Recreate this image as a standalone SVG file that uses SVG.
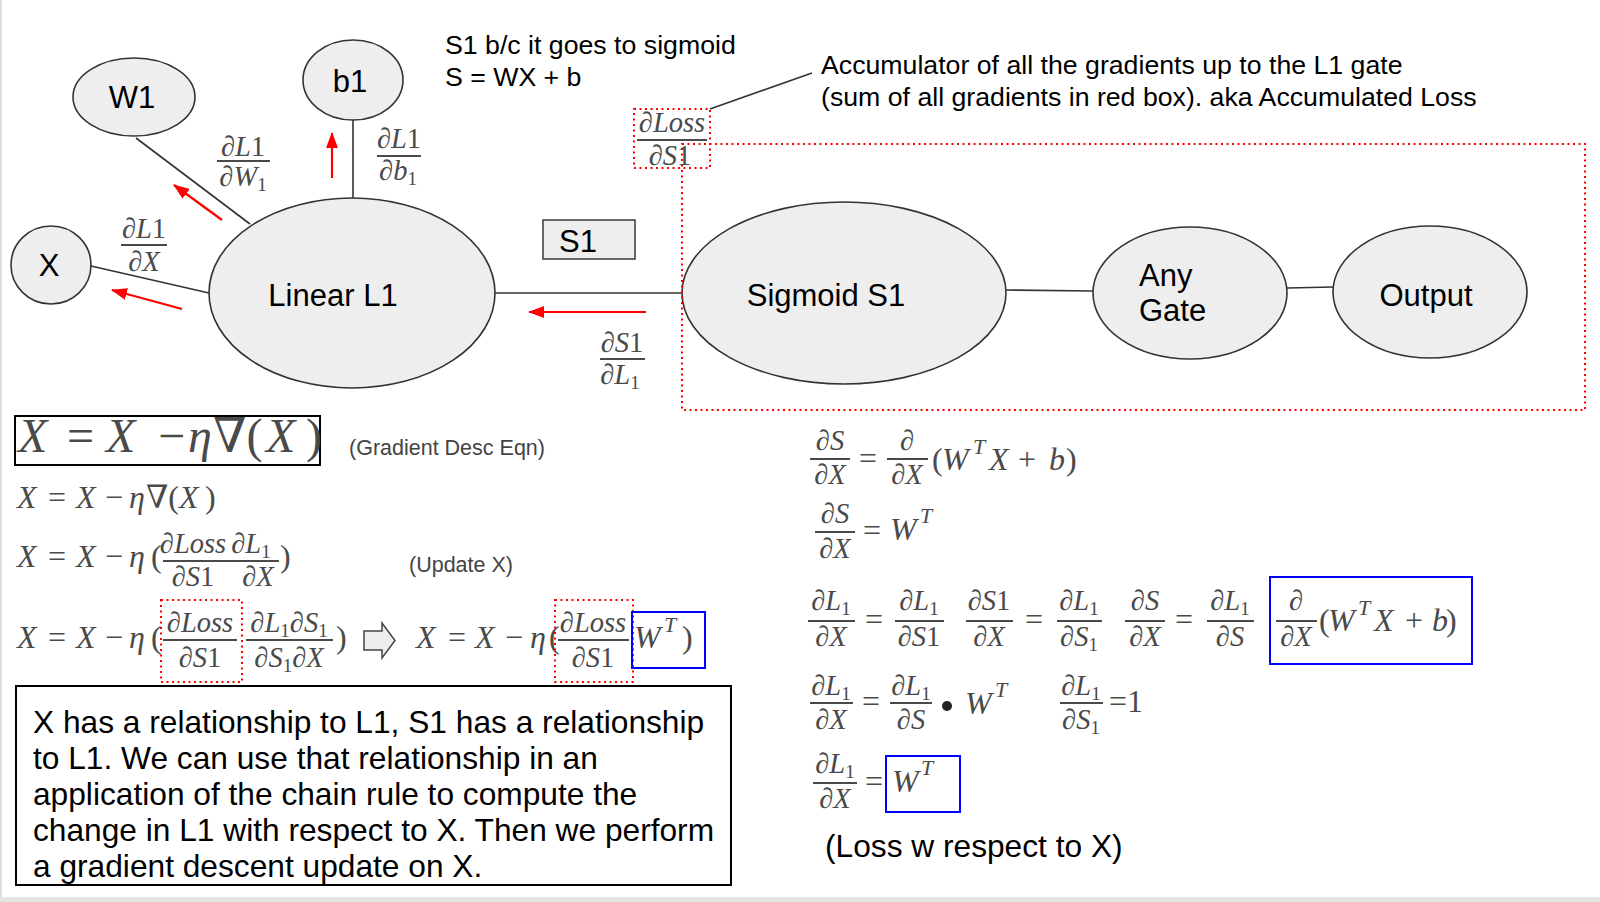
<svg xmlns="http://www.w3.org/2000/svg" width="1600" height="902" viewBox="0 0 1600 902">
<defs>
<marker id="ra" markerUnits="userSpaceOnUse" markerWidth="16" markerHeight="12" refX="15" refY="6" orient="auto"><path d="M0,0 L16,6 L0,12 z" fill="#ff0000"/></marker>
<style>
.nd{fill:#eeeeee;stroke:#333;stroke-width:1.6}
.lb{font-family:"Liberation Sans",Arial,sans-serif;font-size:31px;fill:#000}
.ex{font-family:"Liberation Sans",Arial,sans-serif;font-size:31.7px;fill:#000}
.tx{font-family:"Liberation Sans",Arial,sans-serif;font-size:26.7px;fill:#000}
.gt{font-family:"Liberation Sans",Arial,sans-serif;font-size:21.5px;fill:#444}
.m{font-family:"Liberation Serif","DejaVu Serif",serif;font-style:italic;font-size:28.5px;fill:#4a4a4a}
.ml{font-family:"Liberation Serif","DejaVu Serif",serif;font-style:italic;font-size:32px;fill:#4a4a4a}
.u{font-style:normal}
.s{font-size:19px}
.t{font-size:22px}
.bar{stroke:#4a4a4a;stroke-width:2.2}
.cn{stroke:#333;stroke-width:1.6;fill:none}
.ar{stroke:#ff0000;stroke-width:2.2;fill:none}
.rd{fill:none;stroke:#ff0000;stroke-width:2;stroke-dasharray:2 3.5}
.bl{fill:none;stroke:#0000ff;stroke-width:2}
.ctr{text-anchor:middle}
</style>
</defs>
<rect x="0" y="0" width="1600" height="902" fill="#ffffff"/>
<rect x="0" y="0" width="2" height="902" fill="#dddddd"/>
<rect x="0" y="897" width="1600" height="5" fill="#e4e4e4"/>

<g id="connectors">
<line class="cn" x1="136" y1="138" x2="250" y2="224"/>
<line class="cn" x1="353" y1="120" x2="353" y2="198"/>
<line class="cn" x1="91" y1="266" x2="209" y2="293"/>
<line class="cn" x1="495" y1="293" x2="682" y2="293" stroke="#555"/>
<line class="cn" x1="1006" y1="290" x2="1093" y2="291"/>
<line class="cn" x1="1287" y1="288" x2="1333" y2="287"/>
<line class="cn" x1="710" y1="109" x2="812" y2="73"/>
<line class="ar" x1="332" y1="178" x2="332" y2="133" marker-end="url(#ra)"/>
<line class="ar" x1="222" y1="220" x2="174" y2="185" marker-end="url(#ra)"/>
<line class="ar" x1="182" y1="309" x2="112" y2="290" marker-end="url(#ra)"/>
<line class="ar" x1="646" y1="312" x2="529" y2="312" marker-end="url(#ra)"/>
</g>

<g id="node-W1"><ellipse class="nd" cx="134" cy="97" rx="61" ry="39"/><text class="lb ctr" x="132" y="108">W1</text></g>
<g id="node-b1"><ellipse class="nd" cx="353" cy="80" rx="50" ry="40"/><text class="lb ctr" x="350" y="92">b1</text></g>
<g id="node-X"><ellipse class="nd" cx="51" cy="265" rx="40" ry="39"/><text class="lb ctr" x="49" y="276">X</text></g>
<g id="node-L1"><ellipse class="nd" cx="352" cy="293" rx="143" ry="95"/><text class="lb ctr" x="333" y="306">Linear L1</text></g>
<g id="node-S1"><ellipse class="nd" cx="844" cy="293" rx="162" ry="91"/><text class="lb ctr" x="826" y="306">Sigmoid S1</text></g>
<g id="node-gate"><ellipse class="nd" cx="1190" cy="293" rx="97" ry="66"/><text class="lb" x="1139" y="286">Any</text><text class="lb" x="1139" y="321">Gate</text></g>
<g id="node-output"><ellipse class="nd" cx="1430" cy="292" rx="97" ry="66"/><text class="lb ctr" x="1426" y="306">Output</text></g>
<g id="node-S1box"><rect x="543" y="220" width="92" height="39" fill="#eeeeee" stroke="#444" stroke-width="1.6"/><text class="lb" x="559" y="252">S1</text></g>

<g id="notes">
<text class="tx" x="445" y="54">S1 b/c it goes to sigmoid</text>
<text class="tx" x="445" y="86">S = WX + b</text>
<text class="tx" x="821" y="74">Accumulator of all the gradients up to the L1 gate</text>
<text class="tx" x="821" y="106">(sum of all gradients in red box). aka Accumulated Loss</text>
<rect class="rd" x="634" y="109" width="76" height="59"/>
<rect class="rd" x="682" y="144" width="903" height="266"/>
</g>

<g id="edge-labels">
<text class="m ctr" x="243" y="156">∂L<tspan class="u">1</tspan></text><line class="bar" x1="217" y1="161" x2="270" y2="161"/><text class="m ctr" x="243" y="186">∂W<tspan class="s u" dy="5">1</tspan></text>
<text class="m ctr" x="399" y="148">∂L<tspan class="u">1</tspan></text><line class="bar" x1="377" y1="156" x2="421" y2="156"/><text class="m ctr" x="398" y="180">∂b<tspan class="s u" dy="5">1</tspan></text>
<text class="m ctr" x="144" y="238">∂L<tspan class="u">1</tspan></text><line class="bar" x1="121" y1="245" x2="167" y2="245"/><text class="m ctr" x="144" y="271">∂X</text>
<text class="m ctr" x="622" y="352">∂S<tspan class="u">1</tspan></text><line class="bar" x1="600" y1="359" x2="645" y2="359"/><text class="m ctr" x="620" y="384">∂L<tspan class="s u" dy="5">1</tspan></text>
<text class="m ctr" x="672" y="132">∂Loss</text><line class="bar" x1="637" y1="140" x2="707" y2="140"/><text class="m ctr" x="670" y="165">∂S<tspan class="u">1</tspan></text>
</g>

<g id="left-equations">
<rect x="15" y="416" width="305" height="49" fill="#fff" stroke="#000" stroke-width="2"/>
<text class="ml" y="452" style="font-size:48px"><tspan x="18">X</tspan><tspan x="67" class="u">=</tspan><tspan x="106">X</tspan><tspan x="158" class="u">−</tspan><tspan x="188">η</tspan><tspan x="213" class="u">∇(</tspan><tspan x="266">X</tspan><tspan x="306" class="u">)</tspan></text>
<text class="gt" x="349" y="455">(Gradient Desc Eqn)</text>

<text class="ml" y="508"><tspan x="17">X</tspan><tspan x="48" class="u">=</tspan><tspan x="76">X</tspan><tspan x="105" class="u">−</tspan><tspan x="129">η</tspan><tspan x="146" class="u">∇(</tspan><tspan x="179">X</tspan><tspan x="205" class="u">)</tspan></text>

<text class="ml" y="567"><tspan x="17">X</tspan><tspan x="48" class="u">=</tspan><tspan x="76">X</tspan><tspan x="105" class="u">−</tspan><tspan x="129">η</tspan><tspan x="151" class="u">(</tspan><tspan x="280" class="u">)</tspan></text>
<text class="m ctr" x="193" y="553">∂Loss</text><text class="m ctr" x="251" y="553">∂L<tspan class="s u" dy="5">1</tspan></text>
<line class="bar" x1="163" y1="561" x2="279" y2="561"/>
<text class="m ctr" x="193" y="586">∂S<tspan class="u">1</tspan></text><text class="m ctr" x="258" y="586">∂X</text>
<text class="gt" x="409" y="572">(Update X)</text>

<text class="ml" y="648"><tspan x="17">X</tspan><tspan x="48" class="u">=</tspan><tspan x="76">X</tspan><tspan x="105" class="u">−</tspan><tspan x="129">η</tspan><tspan x="151" class="u">(</tspan><tspan x="336" class="u">)</tspan></text>
<text class="m ctr" x="200" y="632">∂Loss</text><line class="bar" x1="163" y1="640" x2="237" y2="640"/><text class="m ctr" x="200" y="667">∂S<tspan class="u">1</tspan></text>
<text class="m ctr" x="289" y="632">∂L<tspan class="s u" dy="5">1</tspan><tspan dy="-5">∂S</tspan><tspan class="s u" dy="5">1</tspan></text><line class="bar" x1="246" y1="640" x2="333" y2="640"/><text class="m ctr" x="289" y="667">∂S<tspan class="s u" dy="5">1</tspan><tspan dy="-5">∂X</tspan></text>
<rect class="rd" x="161" y="600" width="81" height="82"/>
<path d="M364,631 L382,631 L382,623 L395,640.5 L382,658 L382,650 L364,650 z" fill="#eeeeee" stroke="#444" stroke-width="1.5"/>
<text class="ml" y="648"><tspan x="416">X</tspan><tspan x="448" class="u">=</tspan><tspan x="475">X</tspan><tspan x="505" class="u">−</tspan><tspan x="530">η</tspan><tspan x="549" class="u">(</tspan><tspan x="634">W</tspan><tspan x="664" y="632" class="t">T</tspan><tspan x="682" y="648" class="u">)</tspan></text>
<text class="m ctr" x="593" y="632">∂Loss</text><line class="bar" x1="558" y1="640" x2="629" y2="640"/><text class="m ctr" x="593" y="667">∂S<tspan class="u">1</tspan></text>
<rect class="rd" x="555" y="600" width="78" height="82"/>
<rect class="bl" x="632" y="612" width="73" height="56"/>
</g>

<g id="explanation">
<rect x="16" y="686" width="715" height="199" fill="#fff" stroke="#000" stroke-width="2"/>
<text class="ex" x="33" y="733">X has a relationship to L1, S1 has a relationship</text>
<text class="ex" x="33" y="769">to L1. We can use that relationship in an</text>
<text class="ex" x="33" y="805">application of the chain rule to compute the</text>
<text class="ex" x="33" y="841">change in L1 with respect to X. Then we perform</text>
<text class="ex" x="33" y="877">a gradient descent update on X.</text>
</g>

<g id="right-equations">
<!-- Row A -->
<text class="m ctr" x="830" y="450">∂S</text><line class="bar" x1="810" y1="459" x2="850" y2="459"/><text class="m ctr" x="830" y="484">∂X</text>
<text class="ml u ctr" x="868" y="469">=</text>
<text class="m ctr" x="907" y="450">∂</text><line class="bar" x1="887" y1="459" x2="928" y2="459"/><text class="m ctr" x="907" y="484">∂X</text>
<text class="ml" y="470"><tspan x="932" class="u">(</tspan><tspan x="942">W</tspan><tspan x="973" y="454" class="t">T</tspan><tspan x="989" y="470">X</tspan><tspan x="1018" class="u">+</tspan><tspan x="1049">b</tspan><tspan x="1066" class="u">)</tspan></text>
<!-- Row B -->
<text class="m ctr" x="835" y="523">∂S</text><line class="bar" x1="815" y1="532" x2="855" y2="532"/><text class="m ctr" x="835" y="558">∂X</text>
<text class="ml u ctr" x="872" y="541">=</text>
<text class="ml" y="540"><tspan x="890">W</tspan><tspan x="920" y="523" class="t">T</tspan></text>
<!-- Row C -->
<text class="m ctr" x="831" y="610">∂L<tspan class="s u" dy="5">1</tspan></text><line class="bar" x1="808" y1="621" x2="855" y2="621"/><text class="m ctr" x="831" y="646">∂X</text>
<text class="ml u ctr" x="874" y="630">=</text>
<text class="m ctr" x="919" y="610">∂L<tspan class="s u" dy="5">1</tspan></text><line class="bar" x1="895" y1="621" x2="944" y2="621"/><text class="m ctr" x="919" y="646">∂S<tspan class="u">1</tspan></text>
<text class="m ctr" x="989" y="610">∂S<tspan class="u">1</tspan></text><line class="bar" x1="966" y1="621" x2="1013" y2="621"/><text class="m ctr" x="989" y="646">∂X</text>
<text class="ml u ctr" x="1034" y="630">=</text>
<text class="m ctr" x="1079" y="610">∂L<tspan class="s u" dy="5">1</tspan></text><line class="bar" x1="1057" y1="621" x2="1102" y2="621"/><text class="m ctr" x="1079" y="646">∂S<tspan class="s u" dy="5">1</tspan></text>
<text class="m ctr" x="1145" y="610">∂S</text><line class="bar" x1="1125" y1="621" x2="1165" y2="621"/><text class="m ctr" x="1145" y="646">∂X</text>
<text class="ml u ctr" x="1184" y="630">=</text>
<text class="m ctr" x="1230" y="610">∂L<tspan class="s u" dy="5">1</tspan></text><line class="bar" x1="1207" y1="621" x2="1254" y2="621"/><text class="m ctr" x="1230" y="646">∂S</text>
<rect class="bl" x="1270" y="577" width="202" height="87"/>
<text class="m ctr" x="1296" y="610">∂</text><line class="bar" x1="1276" y1="621" x2="1317" y2="621"/><text class="m ctr" x="1296" y="646">∂X</text>
<text class="ml" y="631"><tspan x="1319" class="u">(</tspan><tspan x="1328">W</tspan><tspan x="1358" y="615" class="t">T</tspan><tspan x="1374" y="631">X</tspan><tspan x="1405" class="u">+</tspan><tspan x="1432">b</tspan><tspan x="1446" class="u">)</tspan></text>
<!-- Row D -->
<text class="m ctr" x="831" y="695">∂L<tspan class="s u" dy="5">1</tspan></text><line class="bar" x1="810" y1="703" x2="853" y2="703"/><text class="m ctr" x="831" y="729">∂X</text>
<text class="ml u ctr" x="871" y="712">=</text>
<text class="m ctr" x="911" y="695">∂L<tspan class="s u" dy="5">1</tspan></text><line class="bar" x1="890" y1="703" x2="932" y2="703"/><text class="m ctr" x="911" y="729">∂S</text>
<circle cx="947" cy="706" r="5" fill="#222"/>
<text class="ml" y="714"><tspan x="965">W</tspan><tspan x="995" y="697" class="t">T</tspan></text>
<text class="m ctr" x="1081" y="695">∂L<tspan class="s u" dy="5">1</tspan></text><line class="bar" x1="1060" y1="703" x2="1103" y2="703"/><text class="m ctr" x="1081" y="729">∂S<tspan class="s u" dy="5">1</tspan></text>
<text class="ml u" x="1109" y="712">=1</text>
<!-- Row E -->
<text class="m ctr" x="835" y="773">∂L<tspan class="s u" dy="5">1</tspan></text><line class="bar" x1="813" y1="783" x2="857" y2="783"/><text class="m ctr" x="835" y="808">∂X</text>
<text class="ml u ctr" x="874" y="792">=</text>
<rect class="bl" x="886" y="756" width="74" height="56"/>
<text class="ml" y="792"><tspan x="892">W</tspan><tspan x="921" y="775" class="t">T</tspan></text>
<text class="ex" x="825" y="857">(Loss w respect to X)</text>
</g>
</svg>
